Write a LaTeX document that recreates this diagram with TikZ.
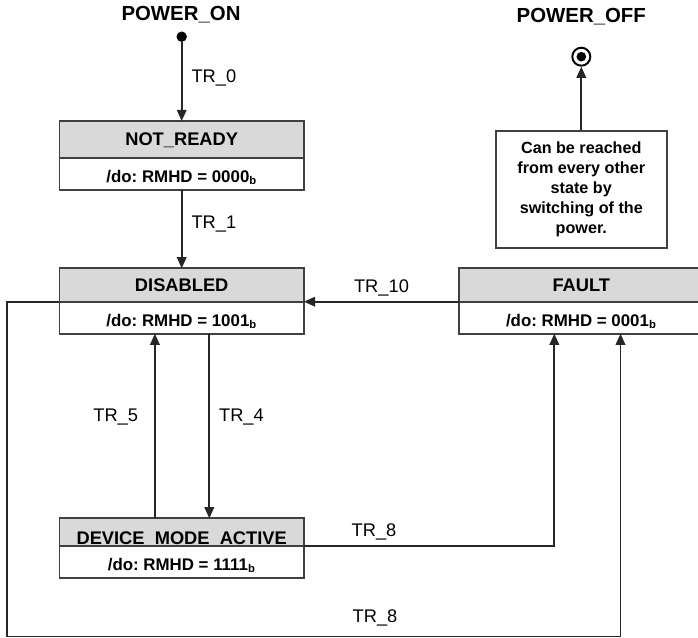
\documentclass[tikz,border=0pt]{standalone}
\usepackage{fontspec}
\setmainfont{Liberation Sans}
\usetikzlibrary{arrows.meta,positioning}
\frenchspacing

\begin{document}
\begin{tikzpicture}[
  x=0.025cm, y=-0.025cm,
  hd/.style={draw=black!75, fill=black!15, line width=1.3pt, outer sep=0pt, minimum width=6.11cm,
             inner ysep=0pt, text depth=0pt, anchor=north, font=\bfseries\fontsize{13}{15}\selectfont},
  bd/.style={draw=black!75, fill=white, line width=1.3pt, outer sep=0pt, minimum width=6.11cm,
             minimum height=0.8cm, text height=12pt, text depth=0pt, font=\bfseries\fontsize{12}{14}\selectfont},
  note/.style={draw=black!75, line width=1.3pt, minimum width=4.27cm, minimum height=2.93cm,
               align=center, font=\bfseries\fontsize{11.5}{14.2}\selectfont},
  ttl/.style={font=\bfseries\fontsize{14.5}{16}\selectfont},
  lbl/.style={font=\fontsize{13}{15}\selectfont},
  initst/.style={circle, fill=black, minimum size=0.26cm, inner sep=0pt},
  endst/.style={circle, draw=black, line width=1.4pt, fill=white, minimum size=0.45cm, inner sep=0pt},
  arr/.style={draw=black!85, line width=1.3pt, -{Triangle[length=2.8mm, width=2.4mm]}}
]
\useasboundingbox (0,0) rectangle (698,638);

\node[ttl] (tOn)  at (181,15)     {POWER\_ON};
\node[ttl] (tOff) at (581.3,16.7) {POWER\_OFF};
\node[initst] (pon)  at (181.7,36.7) {};
\node[endst]  (poff) at (581.3,56.7) {};
\fill[black] (poff.center) circle (0.12cm);

\node[hd, minimum height=0.925cm] (nrH) at (181.7,121) {NOT\_READY};
\node[bd, below=0pt of nrH] (nrB) {/do: RMHD = 0000\textsubscript{b}};
\node[hd, minimum height=0.835cm] (disH) at (181.7,268.3) {DISABLED};
\node[bd, below=0pt of disH] (disB) {/do: RMHD = 1001\textsubscript{b}};
\node[hd, text height=18.5pt, text depth=1pt] (dmaH) at (181.7,518.3) {DEVICE\_MODE\_ACTIVE};
\node[bd, below=0pt of dmaH] (dmaB) {/do: RMHD = 1111\textsubscript{b}};
\node[hd, minimum height=0.835cm] (fltH) at (581.3,268.3) {FAULT};
\node[bd, below=0pt of fltH] (fltB) {/do: RMHD = 0001\textsubscript{b}};
\node[note] (nt) at (581.3,189.7)
  {Can be reached\\from every other\\state by\\switching of the\\power.};

\draw[arr] (pon) -- (nrH) node[pos=.45, right=3pt, lbl] {TR\_0};
\draw[arr] (nrB) -- (disH) node[pos=.43, right=3pt, lbl] {TR\_1};
\draw[arr] (fltH.south west) -- (disH.south east) node[midway, above=0pt, lbl] {TR\_10};
\draw[arr] ([xshift=-0.67cm]dmaH.north) -- ([xshift=-0.67cm]disB.south)
  node[pos=.55, left=8pt, lbl] {TR\_5};
\draw[arr] ([xshift=0.69cm]disB.south) -- ([xshift=0.69cm]dmaH.north)
  node[pos=.45, right=3pt, lbl] {TR\_4};
\draw[arr] (dmaH.south east) -| ([xshift=-0.675cm]fltB.south)
  node[pos=.14, above=0pt, lbl] {TR\_8};
\coordinate (lc) at (6.7,636.5);
\draw[arr] (disH.south west) -| (lc) -| node[pos=.3, above=3.3pt, lbl] {TR\_8}
  ([xshift=0.98cm]fltB.south);
\draw[arr] (nt) -- (poff);
\end{tikzpicture}
\end{document}
